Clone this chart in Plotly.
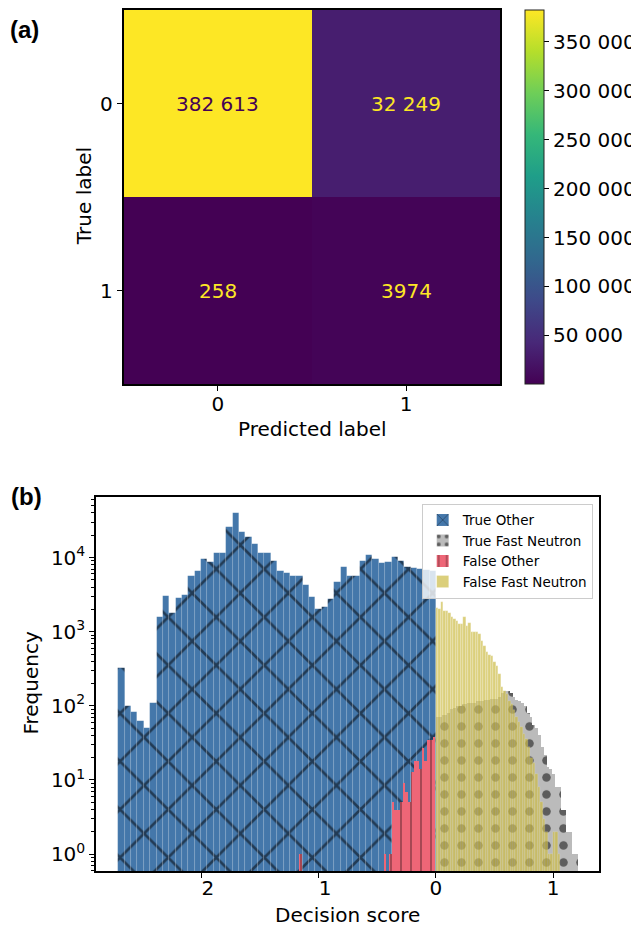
import plotly.graph_objects as go

# ---------------- Panel (a): confusion matrix ----------------
cm_classes = [0, 1]
cm_tick_labels = ["0", "1"]
cm_values = [[382613, 32249],
             [258, 3974]]
cbar_ticks = [50000, 100000, 150000, 200000, 250000, 300000, 350000]

# ---------------- Panel (b): decision-score histograms ----------------
true_other_start, true_other_width = -2.71, 0.0542
true_other_counts = [326, 99, 82, 62, 50, 109, 1563, 3060, 1790, 2850, 3160, 5570, 6500, 9550, 8600, 11700,
                     11700, 26000, 39700, 21800, 18700, 15200, 11700, 11500, 9060, 6500, 6180, 5690, 5690,
                     4265, 2966, 2028, 2130, 2760,
                     4720, 7510, 5690, 5690, 9060, 10800, 9550, 8340, 8770, 10100, 9060, 7510,
                     7200, 7000, 6800, 6600]

true_fast_start, true_fast_width = 0.0, 0.0242
true_fast_counts = [70, 70, 75, 75, 80, 90, 95, 100, 100, 105,
                    105, 110, 110, 110, 115, 115, 118, 120, 120, 125,
                    125, 125, 130, 150, 160, 160, 150, 130, 120, 118,
                    110, 100, 80, 70, 55, 50, 40, 28, 22, 15,
                    14, 12, 8, 8, 4, 4, 2, 2, 1, 1]

false_other_start, false_other_width = -1.17, 0.0233
false_other_counts = [1, 0, 0, 0, 0, 0, 0, 0, 0, 0,
                      0, 0, 0, 0, 0, 0, 0, 0, 0, 0,
                      0, 0, 0, 0, 0, 0, 0, 0, 0, 0,
                      0, 1, 0, 1, 5, 4, 4, 5, 9, 7,
                      5, 13, 18, 18, 14, 27, 18, 35, 35, 38]

false_fast_start, false_fast_width = 0.0, 0.0212
false_fast_counts = [2085, 2000, 2500, 1900, 1900, 1800, 1600, 1490, 1400, 1270,
                     1270, 1600, 1200, 1300, 1000, 980, 980, 930, 760, 650,
                     530, 480, 470, 385, 350, 270, 180, 160, 145, 118,
                     107, 87, 70, 60, 52, 42, 36, 28, 20, 17,
                     12, 8, 5, 3, 2, 1, 1, 2, 2, 1]

hist_tick_vals = [-2, -1, 0, 1]
hist_tick_text = ["\u20072", "\u20071", "0", "1"]
log_exponents = [0, 1, 2, 3, 4]

FONT = "DejaVu Sans, sans-serif"
PAGE_W, PAGE_H = 639, 929
OFF = 8  # default body margin of the html page
W, H = PAGE_W - OFF, PAGE_H - OFF


def px(x):
    return min(max((x - OFF) / W, 0.0), 1.0)


def py(y):
    return min(max(1 - (y - OFF) / H, 0.0), 1.0)


def centers(start, width, counts):
    return [start + width * (i + 0.5) for i in range(len(counts))]


def fmt(v):
    return f"{v:,}".replace(",", " ") if v >= 10000 else str(v)


fig = go.Figure()

zmin = min(min(r) for r in cm_values)
zmax = max(max(r) for r in cm_values)
fig.add_trace(go.Heatmap(
    z=cm_values, x=cm_classes, y=cm_classes,
    colorscale="Viridis", zmin=zmin, zmax=zmax,
    xaxis="x", yaxis="y", hoverinfo="skip",
    colorbar=dict(
        x=px(524.9), xanchor="left", xpad=0, ypad=0,
        y=py(8), yanchor="top",
        len=py(8) - py(383), lenmode="fraction", thickness=19,
        outlinewidth=1, outlinecolor="#222",
        ticks="outside", ticklen=5, tickwidth=1.2, tickcolor="black",
        tickmode="array", tickvals=cbar_ticks, ticktext=[fmt(t) for t in cbar_ticks],
        tickfont=dict(family=FONT, size=20, color="black"),
    ),
))

mid = (zmax + zmin) / 2
annotations = []
for i, row in enumerate(cm_values):
    for j, v in enumerate(row):
        annotations.append(dict(
            x=cm_classes[j], y=cm_classes[i], xref="x", yref="y", text=fmt(v),
            showarrow=False, font=dict(family=FONT, size=20,
                                       color="#440154" if v > mid else "#fde725")))

fig.add_trace(go.Bar(
    x=centers(true_other_start, true_other_width, true_other_counts), y=true_other_counts,
    width=true_other_width, name="True Other", xaxis="x2", yaxis="y2",
    marker=dict(color="#4477AA", line=dict(width=0.6, color="rgba(255,255,255,0.15)"),
                pattern=dict(shape="x", fillmode="overlay", fgcolor="black", size=34, solidity=0.15)),
))
fig.add_trace(go.Bar(
    x=centers(true_fast_start, true_fast_width, true_fast_counts), y=true_fast_counts,
    width=true_fast_width, name="True Fast Neutron", xaxis="x2", yaxis="y2",
    marker=dict(color="#BBBBBB", line=dict(width=0),
                pattern=dict(shape=".", fillmode="overlay", fgcolor="black", size=17, solidity=0.2)),
))
fig.add_trace(go.Bar(
    x=centers(false_other_start, false_other_width, false_other_counts), y=false_other_counts,
    width=false_other_width, name="False Other", xaxis="x2", yaxis="y2",
    marker=dict(color="#EE6677", line=dict(width=0),
                pattern=dict(shape="|", fillmode="overlay", fgcolor="black", size=10, solidity=0.12)),
))
fig.add_trace(go.Bar(
    x=centers(false_fast_start, false_fast_width, false_fast_counts), y=false_fast_counts,
    width=false_fast_width, name="False Fast Neutron", xaxis="x2", yaxis="y2",
    opacity=0.7,
    marker=dict(color="#CCBB44", line=dict(width=0.4, color="rgba(255,255,255,0.5)")),
))

# axis titles and panel labels
titles = [
    ("True label", 83.6, 195, -90),
    ("Predicted label", 312, 428, 0),
    ("Frequency", 31, 683, -90),
    ("Decision score", 347.5, 915, 0),
]
for txt, xp, yp, ang in titles:
    annotations.append(dict(text=txt, x=px(xp), y=py(yp), xref="paper", yref="paper",
                            showarrow=False, textangle=ang, xanchor="center", yanchor="middle",
                            font=dict(family=FONT, size=20, color="black")))
for txt, xp, yp in [("(a)", 24, 28), ("(b)", 26, 496)]:
    annotations.append(dict(text="<b>" + txt + "</b>", x=px(xp), y=py(yp), xref="paper", yref="paper",
                            showarrow=False, xanchor="center", yanchor="middle",
                            font=dict(family="Liberation Sans, Arial, sans-serif", size=24, color="black")))

axis_common = dict(showline=True, mirror=True, linecolor="black", linewidth=1.5,
                   ticks="outside", ticklen=5, tickwidth=1.2, tickcolor="black",
                   showgrid=False, zeroline=False,
                   tickfont=dict(family=FONT, size=20, color="black"))

minor_vals = [m * 10 ** e for e in range(-1, 5) for m in range(2, 10)]

fig.update_layout(
    width=W, height=H, margin=dict(l=0, r=0, t=0, b=0),
    paper_bgcolor="white", plot_bgcolor="white",
    barmode="overlay", bargap=0,
    font=dict(family=FONT, color="black"),
    xaxis=dict(domain=[px(123.6), px(500.4)], range=[-0.5, 1.5], anchor="y",
               tickmode="array", tickvals=cm_classes, ticktext=cm_tick_labels,
               ticklabelstandoff=-4, **axis_common),
    yaxis=dict(domain=[py(383), py(8)], range=[1.5, -0.5], anchor="x",
               tickmode="array", tickvals=cm_classes, ticktext=cm_tick_labels,
               **axis_common),
    xaxis2=dict(domain=[px(96), px(599)], range=[-2.901, 1.391], anchor="y2",
                tickmode="array", tickvals=hist_tick_vals, ticktext=hist_tick_text,
                ticklabelstandoff=-7, **axis_common),
    yaxis2=dict(domain=[py(871), py(496)], type="log", range=[-0.229, 4.817], anchor="x2",
                tickmode="array", tickvals=[10 ** e for e in log_exponents],
                ticktext=[f"10<sup>{e}</sup>" for e in log_exponents],
                minor=dict(ticks="outside", ticklen=3, tickwidth=0.8, tickcolor="black",
                           tickmode="array", tickvals=minor_vals),
                **axis_common),
    legend=dict(x=px(592.7), xanchor="right", y=py(502.7), yanchor="top",
                bgcolor="rgba(255,255,255,0.8)", bordercolor="#cccccc", borderwidth=1,
                font=dict(family=FONT, size=13.5, color="black"), tracegroupgap=0),
    annotations=annotations,
    showlegend=True,
)

fig.write_html("out.html")
